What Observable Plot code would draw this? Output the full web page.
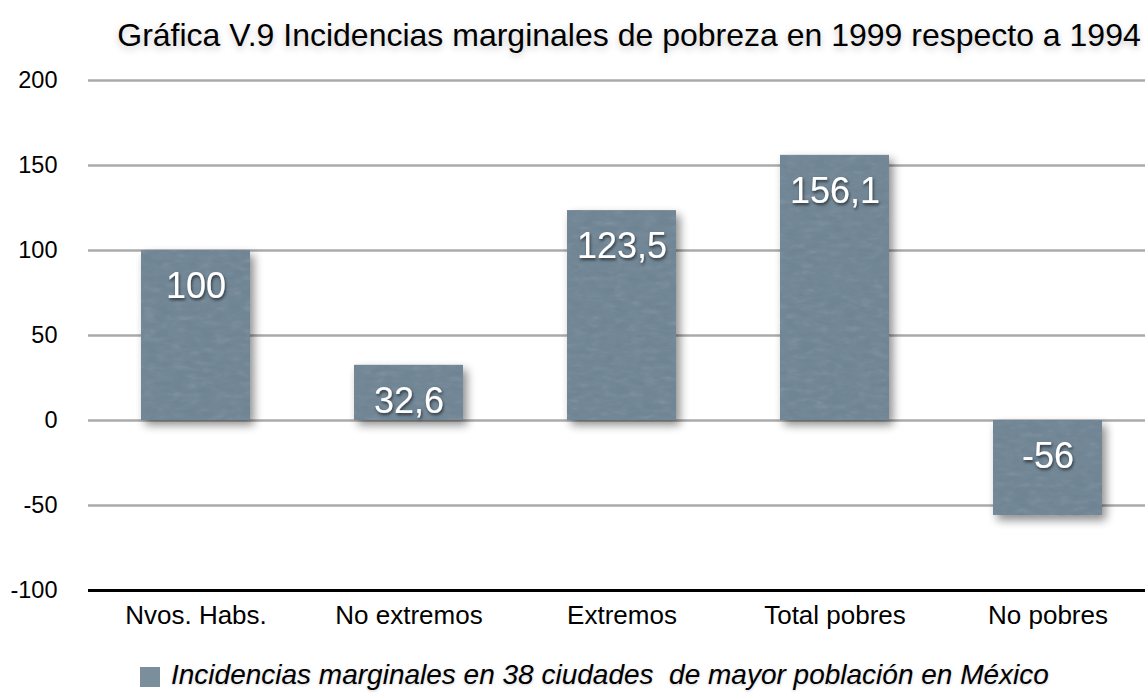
<!DOCTYPE html>
<html>
<head>
<meta charset="utf-8">
<script src="https://cdn.jsdelivr.net/npm/d3@7"></script>
<script src="https://cdn.jsdelivr.net/npm/@observablehq/plot@0.6"></script>
<style>
  html, body { margin: 0; padding: 0; background: #fff; }
  body { width: 1145px; height: 700px; position: relative; overflow: hidden; font-family: "Liberation Sans", Helvetica, Arial, sans-serif; }
  #title { position: absolute; left: 0; top: 15px; width: 1145px; text-align: center; padding-left: 113px; box-sizing: border-box;
           font-size: 32px; line-height: 40px; color: #000; text-shadow: 0 3px 7px rgba(0,0,0,0.22); white-space: nowrap; }
  #chart { position: absolute; left: 0; top: 60px; }
  #legend { position: absolute; left: 140px; top: 656px; height: 38px; display: flex; align-items: center; white-space: pre; }
  #legend .sw { width: 20px; height: 20px; background: #7b8e9c; margin-right: 11px; margin-top: 4px; }
  #legend .lt { font-style: italic; font-size: 28px; line-height: 38px; color: #000; text-shadow: 0 1px 3px rgba(0,0,0,0.2); }
</style>
</head>
<body>
<div id="title">Gráfica V.9 Incidencias marginales de pobreza en 1999 respecto a 1994</div>
<div id="chart"></div>
<div id="legend"><div class="sw"></div><div class="lt">Incidencias marginales en 38 ciudades  de mayor población en México</div></div>
<script>
const categories = ["Nvos. Habs.", "No extremos", "Extremos", "Total pobres", "No pobres"];
const values = [100, 32.6, 123.5, 156.1, -56];
const valueLabels = ["100", "32,6", "123,5", "156,1", "-56"];
const yTicks = [-100, -50, 0, 50, 100, 150, 200];
const gridTicks = [-50, 0, 50, 100, 150, 200];

const data = categories.map((c, i) => ({cat: c, value: values[i], label: valueLabels[i], top: Math.max(values[i], 0)}));

const chart = Plot.plot({
  width: 1145,
  height: 580,
  marginLeft: 88,
  marginRight: 0,
  marginTop: 20,
  marginBottom: 50,
  style: {fontFamily: "'Liberation Sans', Helvetica, Arial, sans-serif", color: "#000", background: "transparent"},
  x: {domain: categories, range: [88, 1155], paddingInner: 0.49, paddingOuter: 0.245, label: null},
  y: {domain: [-100, 200], label: null},
  marks: [
    Plot.ruleY(gridTicks, {stroke: "#aaaaaa", strokeWidth: 2.5}),
    Plot.barY(data, {x: "cat", y: "value", fill: "#7b8e9c"}),
    Plot.ruleY([-100], {stroke: "#000", strokeWidth: 3}),
    Plot.text(data, {x: "cat", y: "top", text: "label", dy: 36, fill: "#fff", fontSize: 36}),
    Plot.axisX({tickSize: 0, tickPadding: 15, fontSize: 26, label: null}),
    Plot.axisY({ticks: yTicks, tickSize: 0, tickPadding: 31, fontSize: 23.5, label: null, tickFormat: d => String(d)})
  ]
});

document.getElementById("chart").appendChild(chart);

chart.querySelectorAll('g[aria-label="x-axis tick label"]').forEach(g => g.setAttribute("font-size", "26"));
chart.querySelectorAll('g[aria-label="y-axis tick label"]').forEach(g => g.setAttribute("font-size", "23.5"));

const ns = "http://www.w3.org/2000/svg";
const defs = document.createElementNS(ns, "defs");
defs.innerHTML = `
  <filter id="barfx" x="-20%" y="-20%" width="150%" height="150%">
    <feTurbulence type="fractalNoise" baseFrequency="0.07 0.18" numOctaves="3" seed="7" result="noise"/>
    <feColorMatrix in="noise" type="saturate" values="0" result="gnoise"/>
    <feComposite in="SourceGraphic" in2="gnoise" operator="arithmetic" k1="0" k2="1" k3="0.12" k4="-0.06" result="tex"/>
    <feComposite in="tex" in2="SourceAlpha" operator="in" result="texclip"/>
    <feGaussianBlur in="SourceAlpha" stdDeviation="5" result="blur"/>
    <feOffset in="blur" dx="4" dy="5" result="ob"/>
    <feComponentTransfer in="ob" result="shadow"><feFuncA type="linear" slope="0.45"/></feComponentTransfer>
    <feMerge><feMergeNode in="shadow"/><feMergeNode in="texclip"/></feMerge>
  </filter>
  <filter id="txtfx" x="-20%" y="-20%" width="140%" height="160%">
    <feDropShadow dx="1" dy="2" stdDeviation="1.5" flood-color="#000" flood-opacity="0.6"/>
  </filter>`;
chart.insertBefore(defs, chart.firstChild);
chart.querySelectorAll('g[aria-label="bar"]').forEach(g => g.setAttribute("filter", "url(#barfx)"));
chart.querySelectorAll('g[aria-label="text"]').forEach(g => g.setAttribute("filter", "url(#txtfx)"));
</script>
</body>
</html>
